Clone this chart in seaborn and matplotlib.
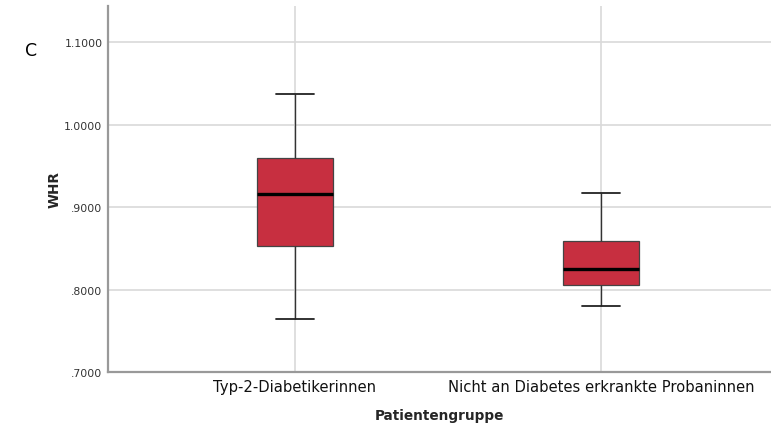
import matplotlib
matplotlib.use("Agg")
import matplotlib.pyplot as plt
import seaborn as sns
import pandas as pd

# Five-number summaries of the waist-to-hip ratio per group
groups = ["Typ-2-Diabetikerinnen", "Nicht an Diabetes erkrankte Probaninnen"]
whr_min = [0.7648, 0.7795]
whr_q1 = [0.8530, 0.8053]
whr_median = [0.9158, 0.8253]
whr_q3 = [0.9595, 0.8584]
whr_max = [1.0372, 0.9170]
y_ticks = [0.7, 0.8, 0.9, 1.0, 1.1]
y_tick_labels = [".7000", ".8000", ".9000", "1.0000", "1.1000"]

rows = []
for i, g in enumerate(groups):
    for v in (whr_min[i], whr_q1[i], whr_median[i], whr_q3[i], whr_max[i]):
        rows.append({"Patientengruppe": g, "WHR": v})
df = pd.DataFrame(rows)

sns.set_style("white")
plt.rcParams["font.family"] = ["DejaVu Sans"]

fig = plt.figure(figsize=(7.71, 4.31), dpi=100)
ax = fig.add_axes([108 / 771, 58 / 431, 1 - 108 / 771, 366 / 431])

grid_color = "#d9d9d9"
for t in y_ticks:
    ax.axhline(t, color=grid_color, lw=1.2, zorder=0)
for x in range(len(groups)):
    ax.axvline(x, color=grid_color, lw=1.2, zorder=0)

sns.boxplot(
    data=df, x="Patientengruppe", y="WHR", order=groups,
    whis=(0, 100), width=0.25, color="#c72f40", saturation=1,
    linecolor="#333333", linewidth=1.0, fliersize=0,
    medianprops={"color": "black", "linewidth": 2.4},
    capprops={"color": "#222222", "linewidth": 1.3},
    whiskerprops={"color": "#333333", "linewidth": 1.0},
    boxprops={"edgecolor": "#444444", "linewidth": 0.9, "zorder": 2},
    ax=ax,
)
# Caps half the width of the boxes
for line in ax.lines:
    xd = line.get_xdata()
    yd = line.get_ydata()
    if len(xd) == 2 and yd[0] == yd[1] and (yd[0] in whr_min or yd[0] in whr_max):
        c = (xd[0] + xd[1]) / 2
        line.set_xdata([c - 0.0625, c + 0.0625])

ax.set_xlim(-0.611, 1.556)
ax.set_ylim(0.7, 1.144)
ax.set_yticks(y_ticks)
ax.set_yticklabels(y_tick_labels, fontsize=7.8, color="#333333")
ax.tick_params(axis="x", labelsize=10.6, colors="#111111", length=0, pad=5)
ax.tick_params(axis="y", length=0, pad=4)

for side in ("top", "right"):
    ax.spines[side].set_visible(False)
for side in ("left", "bottom"):
    ax.spines[side].set_color("#999999")
    ax.spines[side].set_linewidth(1.6)

ax.set_xlabel("Patientengruppe", fontsize=9.8, fontweight="bold", labelpad=10)
ax.set_ylabel("WHR", fontsize=9.8, fontweight="bold", labelpad=2)

fig.text(25 / 771, 1 - 51 / 431, "C", fontsize=12.5, va="center", ha="left", color="black")

fig.savefig("out.png", dpi=100)
